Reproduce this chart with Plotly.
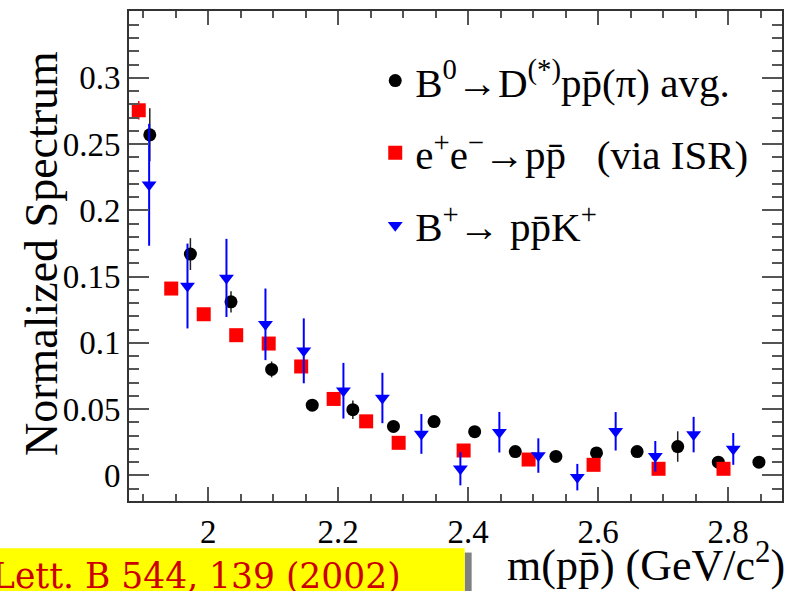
import plotly.graph_objects as go

# ---------------- data ----------------
b0_x = [1.910, 1.9725, 2.035, 2.0975, 2.160, 2.2225, 2.285, 2.3475,
        2.410, 2.4725, 2.535, 2.5975, 2.660, 2.7225, 2.785, 2.8475]
b0_y = [0.257, 0.167, 0.131, 0.080, 0.053, 0.0496, 0.037, 0.0406,
        0.033, 0.018, 0.0143, 0.017, 0.018, 0.0218, 0.010, 0.010]
b0_err = [0.020, 0.012, 0.008, 0.006, 0.004, 0.007, 0.004, 0.004,
          0.004, 0.004, 0.003, 0.004, 0.004, 0.0115, 0.004, 0.003]

isr_x = [1.893, 1.943, 1.993, 2.043, 2.093, 2.143, 2.193, 2.243, 2.293,
         2.393, 2.493, 2.593, 2.693, 2.793]
isr_y = [0.2755, 0.141, 0.1216, 0.1058, 0.0995, 0.0822, 0.0577, 0.0408,
         0.0246, 0.0188, 0.012, 0.008, 0.005, 0.005]
isr_err = [0.007, 0.003, 0.003, 0.003, 0.003, 0.003, 0.003, 0.003, 0.003,
           0.003, 0.003, 0.003, 0.003, 0.003]

bp_x = [1.909, 1.968, 2.028, 2.088, 2.147, 2.208, 2.268, 2.328,
        2.388, 2.448, 2.508, 2.568, 2.627, 2.688, 2.747, 2.808]
bp_y = [0.2193, 0.1429, 0.149, 0.114, 0.094, 0.0639, 0.0584, 0.0313,
        0.005, 0.0326, 0.015, -0.0013, 0.0333, 0.0145, 0.0308, 0.020]
bp_err = [0.046, 0.032, 0.0295, 0.027, 0.0245, 0.021, 0.019, 0.015,
          0.0125, 0.0153, 0.013, 0.010, 0.0145, 0.0115, 0.0134, 0.012]

y_tickvals = [0, 0.05, 0.1, 0.15, 0.2, 0.25, 0.3]
y_ticktext = ["0", "0.05", "0.1", "0.15", "0.2", "0.25", "0.3"]
x_tickvals = [2.0, 2.2, 2.4, 2.6, 2.8]
x_ticktext = ["2", "2.2", "2.4", "2.6", "2.8"]

name_b0 = "B<sup>0</sup>\u2192D<sup>(*)</sup>pp\u0304(\u03c0) avg."
name_isr = "e<sup>+</sup>e<sup>\u2212</sup>\u2192pp\u0304\u00a0\u00a0\u00a0(via ISR)"
name_bp = "B<sup>+</sup>\u2192 pp\u0304K<sup>+</sup>"

x_title = "m(pp\u0304) (GeV/c<sup>2</sup>)"
y_title = "Normalized Spectrum"
ref_text = "Lett. B 544, 139 (2002)"

# ---------------- layout geometry (pixels) ----------------
W, H = 793, 591
L, R, T, B = 129, 784, 9.5, 501


def px(xp):
    return (xp - L) / (R - L)


def py(yp):
    return (B - yp) / (B - T)


FONT = "Liberation Serif, Times New Roman, DejaVu Serif, serif"

fig = go.Figure()

fig.add_trace(go.Scatter(
    x=b0_x, y=b0_y, mode="markers", name=name_b0, legendgroup="a",
    marker=dict(symbol="circle", size=13, color="black"),
    error_y=dict(type="data", array=b0_err, color="#222222", thickness=1.5, width=0),
))
fig.add_trace(go.Scatter(
    x=isr_x, y=isr_y, mode="markers", name=name_isr, legendgroup="b",
    marker=dict(symbol="square", size=14, color="#ff0000"),
    error_y=dict(type="data", array=isr_err, color="#ff0000", thickness=1.5, width=0),
))
fig.add_trace(go.Scatter(
    x=bp_x, y=bp_y, mode="markers", name=name_bp, legendgroup="c",
    marker=dict(symbol="triangle-down", size=13, color="#0000ff"),
    error_y=dict(type="data", array=bp_err, color="#0000ff", thickness=2, width=0),
))

axis_common = dict(
    showline=True, linecolor="#333333", linewidth=2, mirror="ticks",
    ticks="inside", tickcolor="#555555", tickwidth=2,
    showgrid=False, zeroline=False,
    tickfont=dict(family=FONT, size=33, color="black"),
)

fig.update_xaxes(
    range=[1.878, 2.883], tickmode="array", tickvals=x_tickvals, ticktext=x_ticktext,
    ticklen=14,
    minor=dict(ticks="inside", dtick=0.05, tick0=2.0, ticklen=7, tickcolor="#555555",
               tickwidth=2, showgrid=False),
    **axis_common,
)
fig.update_yaxes(
    range=[-0.0193, 0.3504], tickmode="array", tickvals=y_tickvals, ticktext=y_ticktext,
    ticklen=20,
    minor=dict(ticks="inside", dtick=0.01, tick0=0, ticklen=10, tickcolor="#555555",
               tickwidth=2, showgrid=False),
    **axis_common,
)

shapes = [
    # shadow
    dict(type="rect", xref="paper", yref="paper",
         x0=px(465.7), x1=px(472.7), y0=py(552.7), y1=py(600),
         fillcolor="#808080", line=dict(width=0), layer="above"),
    # yellow box
    dict(type="rect", xref="paper", yref="paper",
         x0=px(-5), x1=px(465.7), y0=py(548.3), y1=py(600),
         fillcolor="#ffff00", line=dict(width=0), layer="above"),
]

annotations = [
    dict(text=y_title, xref="paper", yref="paper", x=px(41), y=py(253),
         xanchor="center", yanchor="middle", textangle=-90, showarrow=False,
         font=dict(family=FONT, size=46, color="black")),
    dict(text=x_title, xref="paper", yref="paper", x=px(789), y=py(563),
         xanchor="right", yanchor="middle", showarrow=False,
         font=dict(family=FONT, size=44, color="black")),
    dict(text=ref_text, xref="paper", yref="paper", x=px(-10), y=py(576),
         xanchor="left", yanchor="middle", showarrow=False,
         font=dict(family="DejaVu Serif, serif", size=34.5, color="#cc0000")),
]

fig.update_layout(
    width=W, height=H,
    margin=dict(l=L, r=W - R, t=T, b=H - B, pad=0),
    paper_bgcolor="white", plot_bgcolor="white",
    showlegend=True,
    legend=dict(x=px(376), y=py(46), xanchor="left", yanchor="top",
                bgcolor="rgba(0,0,0,0)", borderwidth=0,
                font=dict(family=FONT, size=41, color="black"),
                tracegroupgap=16, itemsizing="trace"),
    shapes=shapes, annotations=annotations,
)

fig.write_html("out.html")
